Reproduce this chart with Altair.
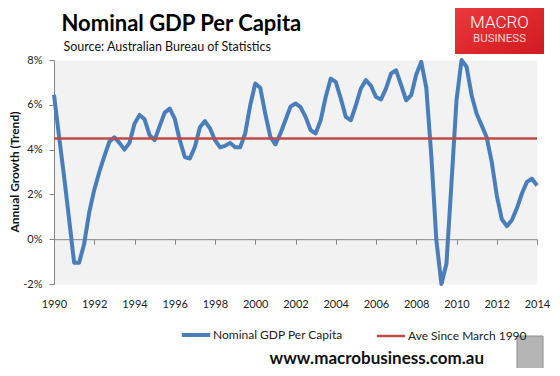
import altair as alt
import pandas as pd

# ---- data ----
start_year = 1990
gdp_growth = [
    6.45, 4.6, 2.8, 0.9,        # 1990
    -1.05, -1.05, -0.2, 1.2,    # 1991
    2.2, 3.0, 3.7, 4.35,        # 1992
    4.55, 4.3, 4.0, 4.3,        # 1993
    5.15, 5.55, 5.35, 4.65,     # 1994
    4.42, 5.05, 5.65, 5.83,     # 1995
    5.38, 4.42, 3.67, 3.6,      # 1996
    4.12, 5.0, 5.27, 4.95,      # 1997
    4.42, 4.1, 4.17, 4.3,       # 1998
    4.1, 4.1, 4.72, 5.98,       # 1999
    6.95, 6.76, 5.6, 4.57,      # 2000
    4.23, 4.72, 5.31, 5.92,     # 2001
    6.06, 5.9, 5.46, 4.87,      # 2002
    4.72, 5.31, 6.35, 7.17,     # 2003
    7.02, 6.28, 5.46, 5.31,     # 2004
    5.98, 6.73, 7.1, 6.85,      # 2005
    6.35, 6.24, 6.73, 7.4,      # 2006
    7.54, 6.88, 6.2, 6.43,      # 2007
    7.35, 7.92, 6.75, 3.7,      # 2008
    -0.05, -2.0, -1.1, 2.5,     # 2009
    6.2, 8.0, 7.7, 6.43,        # 2010
    5.6, 5.08, 4.55, 3.45,      # 2011
    1.96, 0.9, 0.58, 0.85,      # 2012
    1.38, 2.04, 2.56, 2.7,      # 2013
    2.4,                        # 2014
]
quarters = [start_year + i / 4 for i in range(len(gdp_growth))]

average_value = 4.5
average_span = [1990, 2014]

series_names = ["Nominal GDP Per Capita", "Ave Since March 1990"]
series_colors = ["#4A7EBB", "#BE4B48"]

x_ticks = list(range(1990, 2015, 2))
y_ticks = [-2, 0, 2, 4, 6, 8]

title_text = "Nominal GDP Per Capita"
subtitle_text = "Source: Australian Bureau of Statistics"
y_title_text = "Annual Growth (Trend)"
site_text = "www.macrobusiness.com.au"

gdp_df = pd.DataFrame({"t": quarters, "v": gdp_growth, "series": series_names[0]})
ave_df = pd.DataFrame({"t": average_span, "v": [average_value] * 2, "series": series_names[1]})
one = alt.Data(values=[{"k": 1}])

FONT = "Lato"
GRAY = "#868686"

x_scale = alt.Scale(domain=[1990, 2014], nice=False, zero=False)
y_scale = alt.Scale(domain=[-2, 8], nice=False, zero=False)

legend = alt.Legend(
    title=None, orient="none", legendX=136, legendY=269, direction="horizontal",
    symbolType="stroke", symbolSize=800,
    symbolStrokeWidth=alt.ExprRef("datum.value === 'Nominal GDP Per Capita' ? 4 : 2.5"),
    labelFont=FONT, labelFontSize=12, labelColor="#222", labelOffset=11,
    columnPadding=28, padding=0,
)
color = alt.Color("series:N", scale=alt.Scale(domain=series_names, range=series_colors), legend=legend)

x_enc = alt.X("t:Q", scale=x_scale, axis=alt.Axis(
    values=x_ticks, format="d", title=None, grid=False, offset=-44.8,
    domainColor=GRAY, tickColor=GRAY, tickSize=5, labelPadding=54,
    labelFont=FONT, labelFontSize=11, labelColor="#222", labelFlush=False,
))
y_enc = alt.Y("v:Q", scale=y_scale, axis=alt.Axis(
    values=y_ticks, labelExpr="datum.value + '%'", title=None, grid=False,
    domainColor=GRAY, tickColor=GRAY, tickSize=5, labelPadding=7,
    labelFont=FONT, labelFontSize=11, labelColor="#222",
))

gdp_line = alt.Chart(gdp_df).mark_line(strokeWidth=4, strokeJoin="round").encode(
    x=x_enc, y=y_enc, color=color
)
ave_line = alt.Chart(ave_df).mark_line(strokeWidth=2.5).encode(
    x="t:Q", y="v:Q", color=color
)

title = alt.Chart(one).mark_text(
    align="left", baseline="alphabetic", font=FONT, fontSize=22, fontWeight="bold", color="#000"
).encode(x=alt.value(7.5), y=alt.value(-29.5), text=alt.value(title_text))
subtitle = alt.Chart(one).mark_text(
    align="left", baseline="alphabetic", font=FONT, fontSize=12.5, color="#111"
).encode(x=alt.value(9.5), y=alt.value(-8.7), text=alt.value(subtitle_text))
y_title = alt.Chart(one).mark_text(
    align="center", baseline="middle", font=FONT, fontSize=12, fontWeight="bold", color="#111", angle=270
).encode(x=alt.value(-39), y=alt.value(112), text=alt.value(y_title_text))
site = alt.Chart(one).mark_text(
    align="center", baseline="alphabetic", font=FONT, fontSize=17, fontWeight="bold", color="#111"
).encode(x=alt.value(322.8), y=alt.value(304), text=alt.value(site_text))

logo_box = alt.Chart(one).mark_rect(
    fill=alt.Gradient(gradient="linear", x1=0, y1=0, x2=1, y2=1,
                      stops=[alt.GradientStop(color="#EE3A3D", offset=0),
                             alt.GradientStop(color="#CF1B21", offset=1)])
).encode(x=alt.value(401), x2=alt.value(490), y=alt.value(-57), y2=alt.value(-6))
logo_macro = alt.Chart(one).mark_text(
    align="center", baseline="alphabetic", font="Roboto", fontSize=17, fontWeight=300, color="#FFFFFF"
).encode(x=alt.value(445.4), y=alt.value(-32.5), text=alt.value("MACRO"))
logo_business = alt.Chart(one).mark_text(
    align="center", baseline="alphabetic", font="Roboto", fontSize=11.5, fontWeight="normal", color="#F8D4D4"
).encode(x=alt.value(445.5), y=alt.value(-18.3), text=alt.value("BUSINESS"))

wolf = alt.Chart(one).mark_rect(fill="#B5B5B5", stroke="#8C8C8C", strokeWidth=1).encode(
    x=alt.value(463), x2=alt.value(489), y=alt.value(276), y2=alt.value(310)
)

chart = alt.layer(
    gdp_line, ave_line, title, subtitle, y_title, site, logo_box, logo_macro, logo_business, wolf
).properties(
    width=483, height=224,
    autosize=alt.AutoSizeParams(type="none"),
    padding={"left": 46, "top": 52, "right": 15, "bottom": 84},
    background="#FFFFFF",
).configure_view(fill="#F2F2F2", stroke="transparent")

chart.save("out.html", embed_options={"renderer": "svg", "actions": False})
